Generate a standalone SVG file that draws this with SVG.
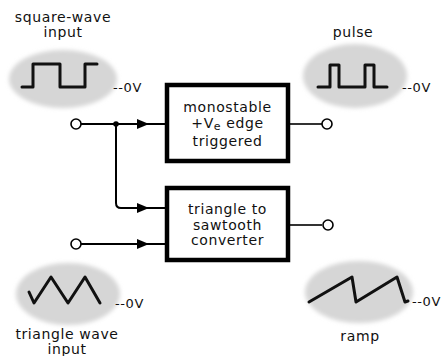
<svg xmlns="http://www.w3.org/2000/svg" width="443" height="356" viewBox="0 0 443 356">
<style>
text{font-family:"DejaVu Sans","Liberation Sans",sans-serif;font-size:13px;fill:#111;letter-spacing:0.6px}
.c{text-anchor:middle}
.lb{font-size:14px}
.bt{font-size:14px}
.box{fill:#fff;stroke:#000;stroke-width:4.5}
.wire{fill:none;stroke:#000;stroke-width:2}
.thin{fill:none;stroke:#000;stroke-width:1.6}
.term{fill:#fff;stroke:#000;stroke-width:1.6}
.bg{fill:#d6d6d6}
.wave{fill:none;stroke:#111;stroke-width:3;stroke-linejoin:round;stroke-linecap:round}
</style>
<defs>
<filter id="soft" x="-20%" y="-20%" width="140%" height="140%"><feGaussianBlur stdDeviation="2"/></filter>
<marker id="ah" viewBox="0 0 12 10" refX="11" refY="5" markerWidth="12" markerHeight="10" markerUnits="userSpaceOnUse" orient="auto"><path d="M0,0 L12,5 L0,10 Z" fill="#000"/></marker>
</defs>
<rect width="443" height="356" fill="#fff"/>

<g id="square-input">
<ellipse class="bg" cx="63" cy="79" rx="54" ry="29" filter="url(#soft)"/>
<path class="wave" d="M22,87 H33 V64 H60 V87 H85 V64 H97"/>
<text x="113" y="92">--0V</text>
<text class="c lb" x="63" y="22">square-wave</text>
<text class="c lb" x="63" y="37">input</text>
</g>

<g id="pulse-output">
<ellipse class="bg" cx="355" cy="76" rx="52" ry="32" filter="url(#soft)"/>
<path class="wave" d="M318,87 H330 V65 H339 V87 H365 V65 H374 V87 H387"/>
<text x="402" y="92">--0V</text>
<text class="c lb" x="353" y="37">pulse</text>
</g>

<g id="triangle-input">
<ellipse class="bg" cx="68" cy="294" rx="52" ry="31" filter="url(#soft)"/>
<path class="wave" d="M29,292 L34,303 L51,277 L68,303 L85,277 L100,303"/>
<text x="115" y="308">--0V</text>
<text class="c lb" x="67" y="339">triangle wave</text>
<text class="c lb" x="67" y="354">input</text>
</g>

<g id="ramp-output">
<ellipse class="bg" cx="359" cy="292" rx="54" ry="31" filter="url(#soft)"/>
<path class="wave" d="M309,302 L352,277 L356,302 L397,277 L405,302 L408,301"/>
<text x="412" y="306">--0V</text>
<text class="c lb" x="360" y="341">ramp</text>
</g>

<g id="monostable">
<rect class="box" x="167" y="85" width="121" height="76"/>
<text class="c bt" x="227.5" y="112">monostable</text>
<text class="c bt" x="227.5" y="128">+V<tspan font-size="11" dy="2">e</tspan><tspan dy="-2"> edge</tspan></text>
<text class="c bt" x="227.5" y="146">triggered</text>
</g>

<g id="converter">
<rect class="box" x="167" y="188" width="121" height="72"/>
<text class="c bt" x="227.5" y="214">triangle to</text>
<text class="c bt" x="227.5" y="230">sawtooth</text>
<text class="c bt" x="227.5" y="245">converter</text>
</g>

<g id="connectors">
<line class="wire" x1="81" y1="124" x2="148" y2="124" marker-end="url(#ah)"/>
<line class="wire" x1="145" y1="124" x2="165" y2="124"/>
<path class="wire" d="M116,124 V203 Q116,208 121,208 H148" marker-end="url(#ah)"/>
<line class="wire" x1="145" y1="208" x2="165" y2="208"/>
<line class="wire" x1="81" y1="244" x2="148" y2="244" marker-end="url(#ah)"/>
<line class="wire" x1="145" y1="244" x2="165" y2="244"/>
<circle cx="116" cy="124" r="2.8" fill="#000"/>
<line class="thin" x1="290" y1="124" x2="322" y2="124"/>
<line class="thin" x1="290" y1="225" x2="322" y2="225"/>
<circle class="term" cx="76" cy="124" r="5"/>
<circle class="term" cx="76" cy="244" r="5"/>
<circle class="term" cx="327" cy="124" r="5"/>
<circle class="term" cx="328" cy="225" r="5"/>
</g>
</svg>
